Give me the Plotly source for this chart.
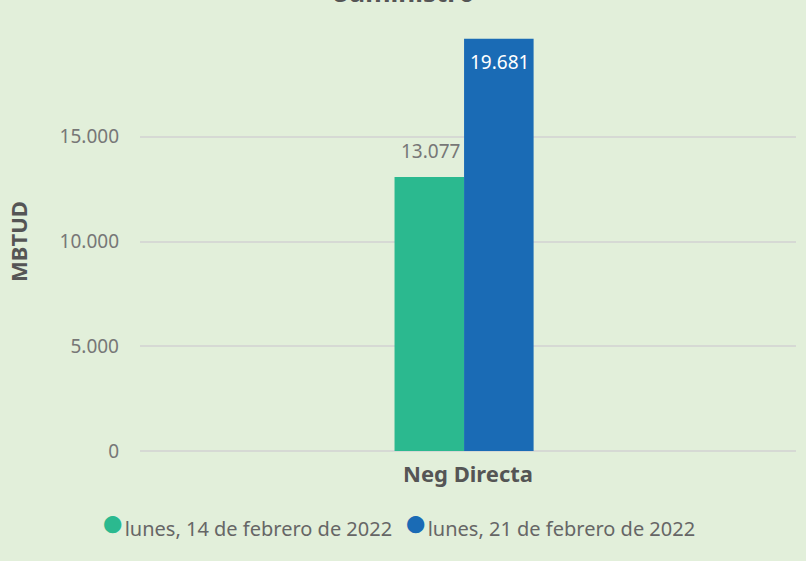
import plotly.graph_objects as go

categories = ["Neg Directa"]
series_names = ["lunes, 14 de febrero de 2022", "lunes, 21 de febrero de 2022"]
series_values = [[13077], [19681]]
series_colors = ["#2bb98f", "#1a6bb5"]
tick_vals = [0, 5000, 10000, 15000]
title_text = "Suministro"
y_title = "MBTUD"

BG = "#e2efda"
FONT = "Noto Sans"


def fmt(v):
    return f"{v:,}".replace(",", ".")


fig = go.Figure()
bar_w = 0.106
offsets = [-bar_w - 0.006, -0.006]
# label style per series: (text colour, anchor, y shift in px, x shift in px)
label_styles = [("#777777", "bottom", 11, -38), ("#ffffff", "top", -8, 31)]
legend_ids = ["legend", "legend2"]
legend_x = [(105 - 44.5 - 140) / 656, (408 - 44.5 - 140) / 656]
annotations = []
for name, vals, col, off, ls, lid in zip(series_names, series_values, series_colors, offsets,
                                         label_styles, legend_ids):
    fig.add_trace(go.Bar(
        x=categories, y=vals, name=name, marker=dict(color=col, line=dict(width=0)),
        width=bar_w, offset=off, showlegend=False, hoverinfo="x+y",
    ))
    fig.add_trace(go.Scatter(
        x=[None], y=[None], mode="markers", legend=lid,
        name=f'<span style="color:{col};font-size:40px">●</span>{name}',
        marker=dict(color="rgba(0,0,0,0)", size=0, opacity=0),
    ))
    for c, v in zip(categories, vals):
        annotations.append(dict(
            x=c, y=v, xref="x", yref="y", text=fmt(v), showarrow=False,
            yanchor=ls[1], yshift=ls[2], xshift=ls[3], xanchor="center",
            font=dict(size=19, color=ls[0], family=FONT),
        ))

annotations.append(dict(text=f"<b>{title_text}</b>", xref="paper", yref="paper",
                        x=(404 - 140) / 656, y=1 + (32 + 8) / 419, xanchor="center", yanchor="middle",
                        showarrow=False, font=dict(size=26, color="#555555", family=FONT)))

legend_common = dict(orientation="h", xanchor="left", y=-0.184, yanchor="middle",
                     font=dict(size=20, color="#666666", family=FONT),
                     itemwidth=30, bgcolor="rgba(0,0,0,0)")

fig.update_layout(
    width=806, height=561,
    margin=dict(l=140, r=10, t=32, b=110),
    paper_bgcolor=BG, plot_bgcolor=BG,
    font=dict(family=FONT, color="#777777"),
    separators=",.",
    barmode="group",
    legend=dict(x=legend_x[0], **legend_common),
    legend2=dict(x=legend_x[1], **legend_common),
    showlegend=True,
    annotations=annotations,
)
fig.update_yaxes(
    range=[0, 20000], tickvals=tick_vals, tickformat=",d",
    showgrid=True, gridcolor="#d6d9d4", gridwidth=2,
    zeroline=True, zerolinecolor="#d6d9d4", zerolinewidth=2,
    showline=False, ticks="", ticklabelstandoff=20,
    tickfont=dict(size=19, color="#777777", family=FONT),
    title=dict(text=f"<b>{y_title}</b>", standoff=25, font=dict(size=22, color="#555555", family=FONT)),
)
fig.update_xaxes(
    showgrid=False, showline=False, ticks="", ticklabelstandoff=8,
    tickfont=dict(size=22, color="#555555", family=FONT),
    tickvals=categories, ticktext=[f"<b>{c}</b>" for c in categories],
)
fig.write_html("out.html")
